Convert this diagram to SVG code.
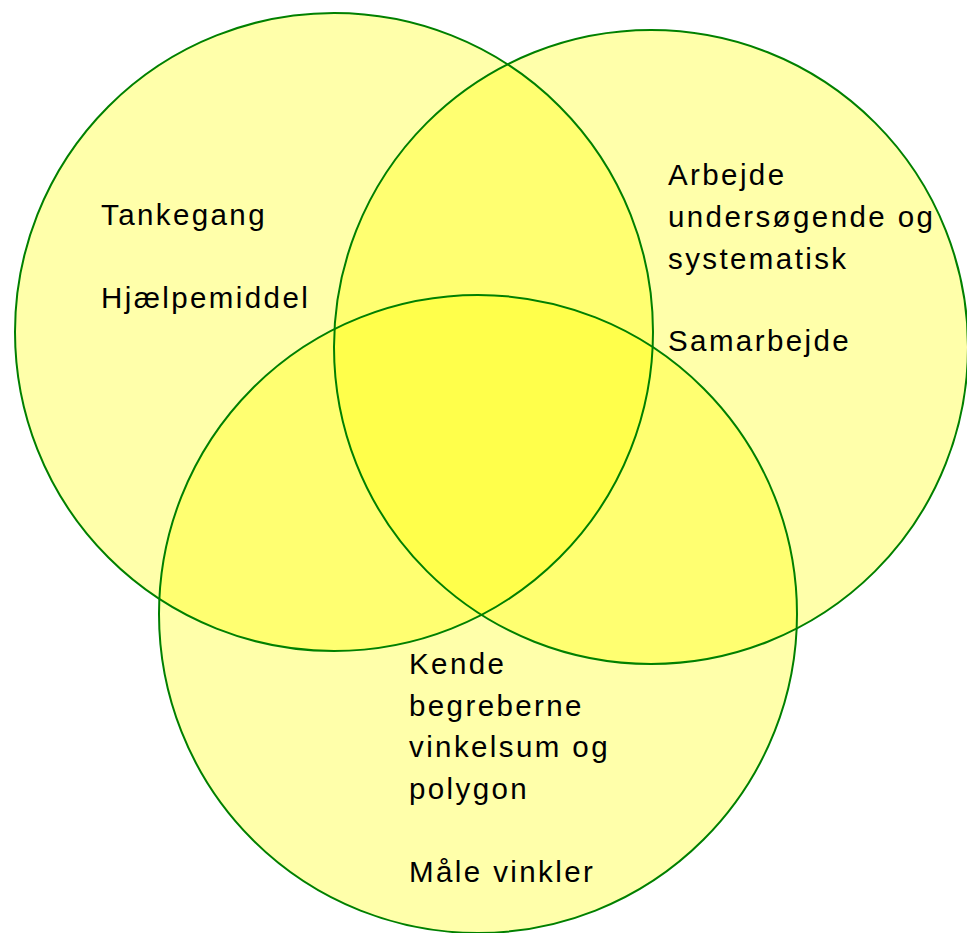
<svg xmlns="http://www.w3.org/2000/svg" width="967" height="933" viewBox="0 0 967 933">
<style>
.f{fill:#FFFF00;fill-opacity:0.333;stroke:none}
.o{fill:none;stroke:#008000;stroke-width:2}
.t{font-family:"Liberation Sans",Arial,sans-serif;font-size:29.5px;letter-spacing:2.4px;fill:#000}
</style>
<rect width="967" height="933" fill="#fff"/>
<g id="circle-left"><circle class="f" cx="334" cy="332" r="319"/></g>
<g id="circle-right"><circle class="f" cx="651" cy="347" r="317"/></g>
<g id="circle-bottom"><circle class="f" cx="478" cy="614" r="319"/></g>
<g id="outlines">
<circle class="o" cx="334" cy="332" r="319"/>
<circle class="o" cx="651" cy="347" r="317"/>
<circle class="o" cx="478" cy="614" r="319"/>
</g>
<g id="label-left">
<text class="t" x="101" y="224.5">Tankegang</text>
<text class="t" x="101" y="307.5">Hjælpemiddel</text>
</g>
<g id="label-right">
<text class="t" x="668" y="185">Arbejde</text>
<text class="t" x="668" y="227">undersøgende og</text>
<text class="t" x="668" y="268.5">systematisk</text>
<text class="t" x="668" y="351">Samarbejde</text>
</g>
<g id="label-bottom">
<text class="t" x="409" y="674">Kende</text>
<text class="t" x="409" y="715.5">begreberne</text>
<text class="t" x="409" y="757">vinkelsum og</text>
<text class="t" x="409" y="798.5">polygon</text>
<text class="t" x="409" y="881.5">Måle vinkler</text>
</g>
<g id="connectors"></g>
</svg>
